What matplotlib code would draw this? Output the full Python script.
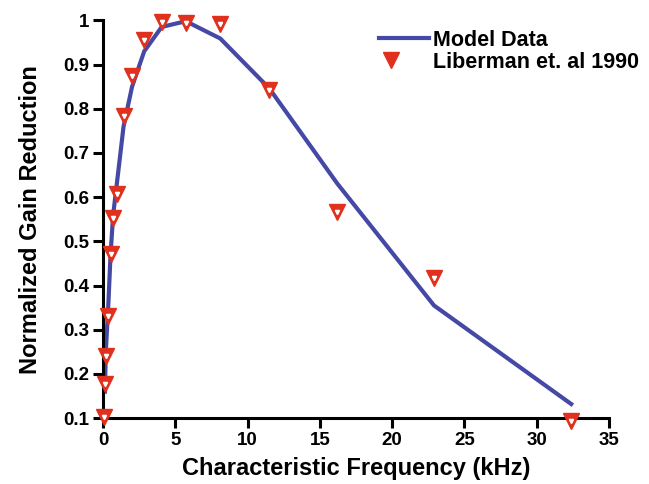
import matplotlib
matplotlib.use('Agg')
import matplotlib.pyplot as plt
from matplotlib.ticker import FuncFormatter
from matplotlib.legend_handler import HandlerTuple

plt.rcParams['font.family'] = ['Liberation Sans', 'DejaVu Sans']
plt.rcParams['font.weight'] = 'bold'

# model curve
model_cf = [0.12, 0.18, 0.36, 0.51, 0.69, 0.98, 1.41, 2.0, 2.84, 4.05, 5.72, 8.1, 11.5, 16.2, 22.9, 32.4]
model_gain = [0.16, 0.25, 0.36, 0.47, 0.56, 0.64, 0.76, 0.85, 0.93, 0.985, 0.998, 0.959, 0.846, 0.631, 0.355, 0.132]

# Liberman et al 1990
lib_cf = [0.06, 0.13, 0.18, 0.36, 0.51, 0.69, 0.98, 1.41, 2.0, 2.84, 4.05, 5.72, 8.1, 11.5, 16.2, 22.9, 32.4]
lib_gain = [0.103, 0.177, 0.240, 0.331, 0.471, 0.552, 0.607, 0.783, 0.873, 0.956, 0.996, 0.993, 0.991, 0.843, 0.566, 0.417, 0.093]

xticks = [0, 5, 10, 15, 20, 25, 30, 35]
yticks = [0.1, 0.2, 0.3, 0.4, 0.5, 0.6, 0.7, 0.8, 0.9, 1.0]

blue = '#4549a6'
red = '#e0301e'

fig = plt.figure(figsize=(6.49, 4.84), dpi=100)
ax = fig.add_axes([0.159, 0.136, 0.779, 0.822])

ln, = ax.plot(model_cf, model_gain, color=blue, lw=3, zorder=2)
m1, = ax.plot(lib_cf, lib_gain, ls='none', marker='v', ms=12, color=red, mec=red, zorder=3, clip_on=False)
m2, = ax.plot(lib_cf, lib_gain, ls='none', marker='v', ms=3, color='white', mec='white', zorder=4, clip_on=False)

ax.set_xlim(0, 35)
ax.set_ylim(0.1, 1.0)
ax.set_xticks(xticks)
ax.set_yticks(yticks)
ax.yaxis.set_major_formatter(FuncFormatter(lambda v, p: '1' if abs(v - 1) < 1e-9 else '%.1f' % v))

for s in ['top', 'right']:
    ax.spines[s].set_visible(False)
for s in ['left', 'bottom']:
    ax.spines[s].set_linewidth(2.2)
ax.tick_params(width=2.2, length=7, labelsize=13.5, pad=3)

ax.set_xlabel('Characteristic Frequency (kHz)', fontsize=17, fontweight='bold', labelpad=6)
ax.set_ylabel('Normalized Gain Reduction', fontsize=17, fontweight='bold', labelpad=15)

ax.legend([ln, (m1, m2)], ['Model Data', 'Liberman et. al 1990'],
          handler_map={tuple: HandlerTuple(ndivide=None, pad=0)},
          loc='upper right', bbox_to_anchor=(1.098, 1.025), frameon=False,
          prop={'size': 15.5, 'weight': 'bold'}, handlelength=2.3, handletextpad=0.2,
          labelspacing=0.05)

plt.savefig('out.png', dpi=100)
